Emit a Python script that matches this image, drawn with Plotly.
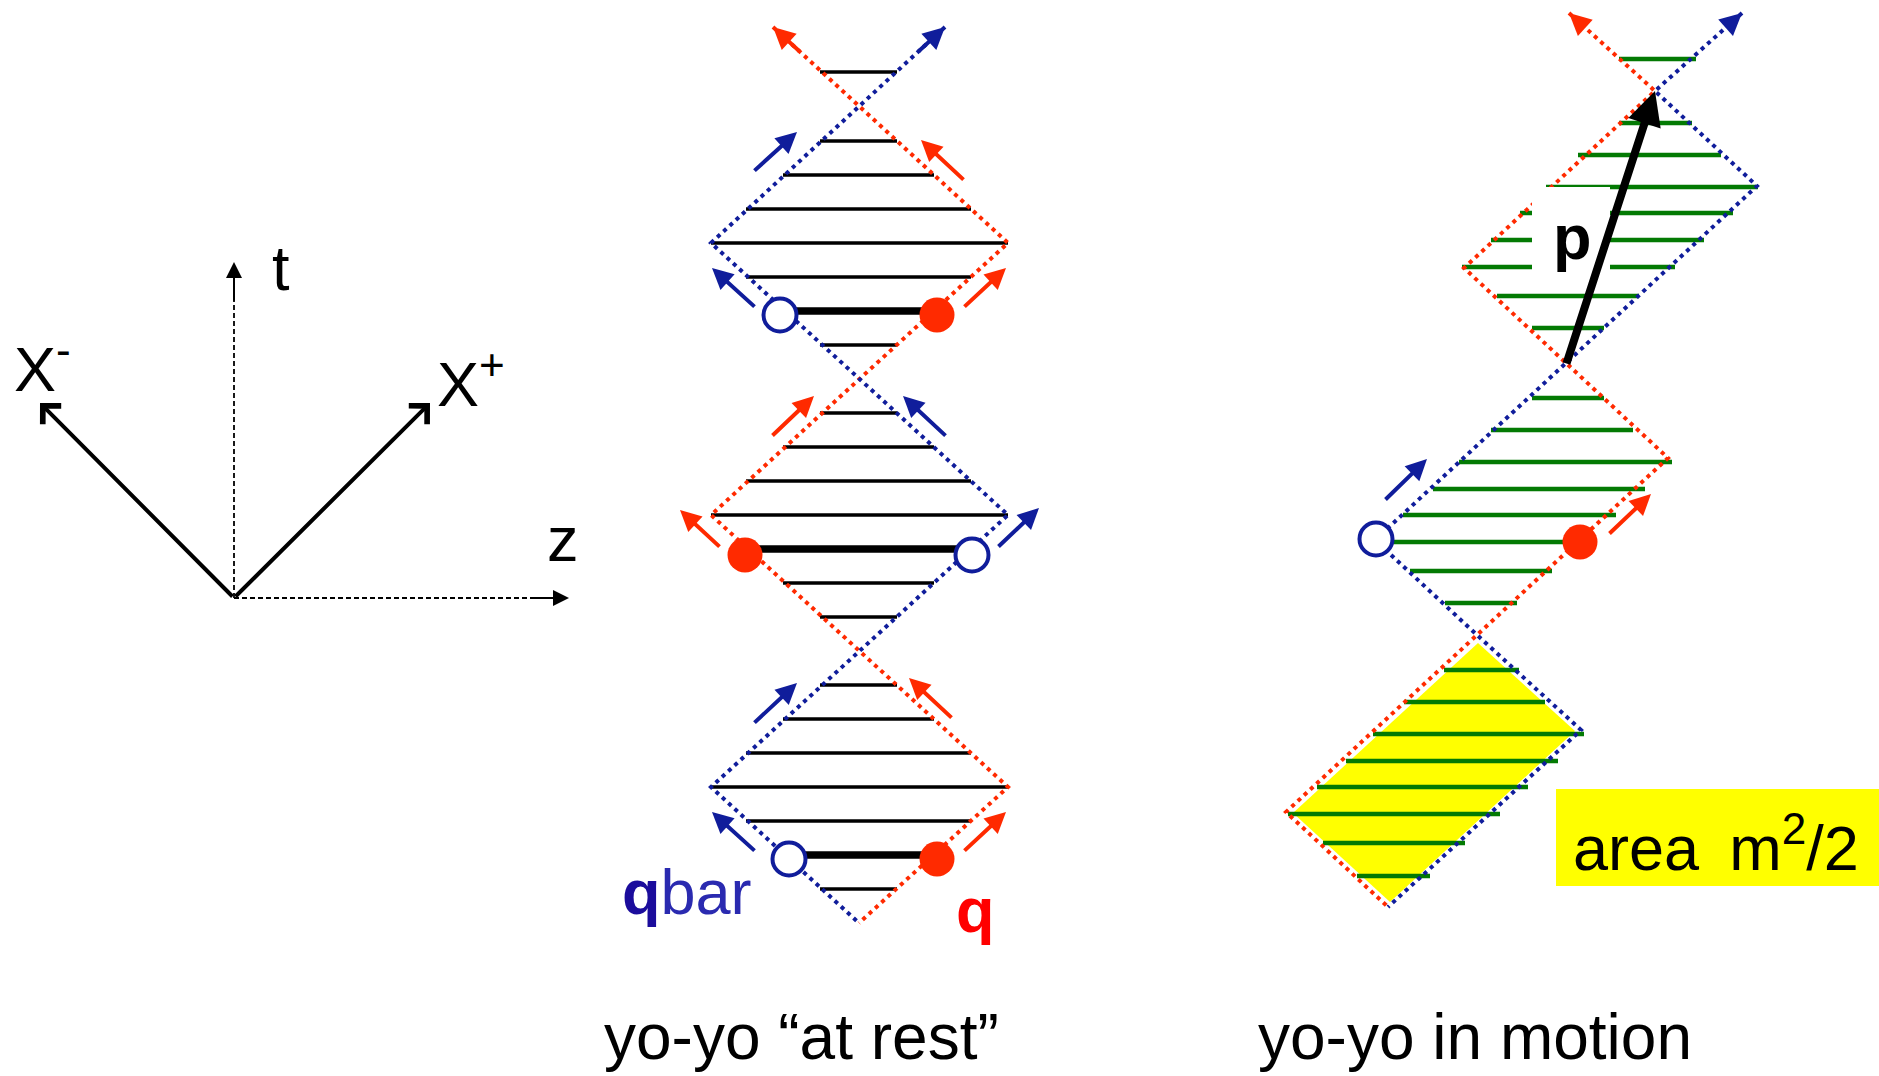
import plotly.graph_objects as go

FONT = "Liberation Sans, Arial, Helvetica, sans-serif"
BLUE = "#101d9b"
RED = "#ff2a00"
QRED = "#ff0000"
GREEN = "#037a03"
YELLOW = "#ffff00"
BLACK = "#000000"

# ---------------- data (pixel units) ----------------
# left: coordinate frame
frame_origin_x = 234
frame_origin_y = 598
frame_dashed_tip_x = [234, 569]          # t axis, z axis
frame_dashed_tip_y = [262, 598]
frame_lc_tip_x = [40, 430]               # X-, X+
frame_lc_tip_y = [403, 403]
frame_label_text = ["t", "X<sup>-</sup>", "X<sup>+</sup>", "z"]
frame_label_x = [270, 12, 435, 545]
frame_label_y = [268, 364, 379, 539]

# middle: yo-yo at rest
rest_red_path_x = [773, 1008, 711, 1008, 859]
rest_red_path_y = [27, 243, 515, 787, 923]
rest_blue_path_x = [945, 711, 1008, 711, 859]
rest_blue_path_y = [27, 243, 515, 787, 923]
rest_rung_y = [72, 141, 175, 209, 243, 277, 345, 413, 447, 481, 515, 583, 617,
               685, 719, 753, 787, 821, 889]
rest_rung_x0 = [820, 820, 783, 746, 711, 746, 820, 820, 783, 746, 711, 783, 820,
                820, 783, 746, 711, 746, 820]
rest_rung_x1 = [897, 897, 934, 971, 1008, 971, 897, 897, 934, 971, 1008, 934, 897,
                897, 934, 971, 1008, 971, 897]
rest_string_y = [311, 549, 855]
rest_string_x0 = [785, 748, 789]
rest_string_x1 = [935, 970, 937]
rest_antiquark_x = [780, 972, 789]
rest_antiquark_y = [315, 555, 859]
rest_quark_x = [937, 745, 937]
rest_quark_y = [315, 555, 859]

# small velocity arrows (tail -> tip)
vel_color = ["b", "r", "b", "r", "r", "b", "r", "b", "b", "r", "b", "r", "b", "r"]
vel_x0 = [753, 965, 756, 963, 771, 947, 721, 997, 753, 953, 756, 963, 1384, 1608]
vel_y0 = [172, 181, 308, 308, 437, 437, 548, 548, 724, 719, 852, 852, 501, 535]
vel_x1 = [797, 921, 712, 1006, 814, 903, 680, 1039, 797, 909, 712, 1006, 1427, 1651]
vel_y1 = [132, 140, 268, 268, 396, 396, 510, 508, 683, 678, 812, 812, 459, 494]

# right: yo-yo in motion
mot_red_path_x = [1569, 1655, 1464, 1566, 1668, 1477, 1286, 1388]
mot_red_path_y = [13, 91, 268, 363, 458, 635, 812, 907]
mot_blue_path_x = [1742, 1655, 1757, 1566, 1375, 1477, 1581, 1388]
mot_blue_path_y = [13, 91, 186, 363, 540, 635, 730, 907]
mot_rung_y = [59, 123, 155, 187, 213, 240, 267, 296, 328,
              398, 430, 462, 489, 515, 571, 603,
              670, 702, 734, 761, 787, 814, 843, 876]
mot_rung_x0 = [1619, 1619, 1578, 1546, 1520, 1491, 1462, 1497, 1532,
               1532, 1491, 1459, 1433, 1403, 1410, 1445,
               1444, 1404, 1373, 1346, 1317, 1288, 1323, 1357]
mot_rung_x1 = [1696, 1692, 1721, 1758, 1733, 1704, 1675, 1639, 1604,
               1604, 1633, 1672, 1645, 1616, 1552, 1517,
               1519, 1545, 1584, 1558, 1528, 1500, 1465, 1430]
mot_string_y = 542
mot_string_x0 = 1393
mot_string_x1 = 1563
mot_antiquark = (1376, 539)
mot_quark = (1580, 542)
mot_area_x = [1478, 1575, 1390, 1293]
mot_area_y = [643, 731, 902, 813]
p_arrow_tail = (1566, 365)
p_arrow_tip = (1655, 91)
p_box_x = [1532, 1610]
p_box_y = [187, 279]
area_box_x = [1556, 1879]
area_box_y = [789, 886]

# texts: (text, x, y, size, color, xanchor)
texts = [
    ("<b>q</b><span style='color:#2a2ab0'>bar</span>", 620, 892, 63, "#1b0c9c", "left"),
    ("<b>q</b>", 975, 910, 63, QRED, "center"),
    ("<b>p</b>", 1572, 237, 63, BLACK, "center"),
    ("area\u2009 m<sup>2</sup>/2", 1716, 843, 63, BLACK, "center"),
    ("yo-yo \u201cat rest\u201d", 801, 1037, 64, BLACK, "center"),
    ("yo-yo in motion", 1475, 1037, 64, BLACK, "center"),
]

# ---------------- figure ----------------
fig = go.Figure()

# yellow area
fig.add_trace(go.Scatter(x=mot_area_x + [mot_area_x[0]], y=mot_area_y + [mot_area_y[0]],
                         mode="lines", fill="toself", fillcolor=YELLOW,
                         line=dict(width=0, color=YELLOW), hoverinfo="skip"))


def segs(x0s, x1s, ys):
    xs, yy = [], []
    for a, b, y in zip(x0s, x1s, ys):
        xs += [a, b, None]
        yy += [y, y, None]
    return xs, yy


# black rungs (at rest)
xs, ys = segs(rest_rung_x0, rest_rung_x1, rest_rung_y)
fig.add_trace(go.Scatter(x=xs, y=ys, mode="lines", line=dict(color=BLACK, width=3.5),
                         hoverinfo="skip"))
xs, ys = segs(rest_string_x0, rest_string_x1, rest_string_y)
fig.add_trace(go.Scatter(x=xs, y=ys, mode="lines", line=dict(color=BLACK, width=7.5),
                         hoverinfo="skip"))

# green rungs (in motion)
xs, ys = segs(mot_rung_x0 + [mot_string_x0], mot_rung_x1 + [mot_string_x1],
              mot_rung_y + [mot_string_y])
fig.add_trace(go.Scatter(x=xs, y=ys, mode="lines", line=dict(color=GREEN, width=4.5),
                         hoverinfo="skip"))

# dotted light-cone paths
for px, py, col in [(rest_red_path_x, rest_red_path_y, RED),
                    (rest_blue_path_x, rest_blue_path_y, BLUE),
                    (mot_red_path_x, mot_red_path_y, RED),
                    (mot_blue_path_x, mot_blue_path_y, BLUE)]:
    fig.add_trace(go.Scatter(x=px, y=py, mode="lines",
                             line=dict(color=col, width=4, dash="4px,4.5px"),
                             hoverinfo="skip"))

# frame dashed axes
for tx, ty in zip(frame_dashed_tip_x, frame_dashed_tip_y):
    fig.add_trace(go.Scatter(x=[frame_origin_x, tx], y=[frame_origin_y, ty], mode="lines",
                             line=dict(color=BLACK, width=1.8, dash="5px,3px"),
                             hoverinfo="skip"))

# quarks
fig.add_trace(go.Scatter(x=rest_antiquark_x + [mot_antiquark[0]],
                         y=rest_antiquark_y + [mot_antiquark[1]], mode="markers",
                         marker=dict(symbol="circle", size=33, color="white",
                                     line=dict(color=BLUE, width=4)),
                         hoverinfo="skip"))
fig.add_trace(go.Scatter(x=rest_quark_x + [mot_quark[0]],
                         y=rest_quark_y + [mot_quark[1]], mode="markers",
                         marker=dict(symbol="circle", size=35, color=RED,
                                     line=dict(width=0)),
                         hoverinfo="skip"))

shapes = []
# white box behind p label
shapes.append(dict(type="rect", xref="x", yref="y", x0=p_box_x[0], x1=p_box_x[1],
                   y0=p_box_y[0], y1=p_box_y[1], fillcolor="white",
                   line=dict(width=0), layer="above"))
# yellow area label box
shapes.append(dict(type="rect", xref="x", yref="y", x0=area_box_x[0], x1=area_box_x[1],
                   y0=area_box_y[0], y1=area_box_y[1], fillcolor=YELLOW,
                   line=dict(width=0), layer="above"))

anns = []


def arrow(x0, y0, x1, y1, color, width, head, size):
    anns.append(dict(x=x1, y=y1, ax=x0, ay=y0, xref="x", yref="y", axref="x", ayref="y",
                     text="", showarrow=True, arrowhead=head, arrowsize=size,
                     arrowwidth=width, arrowcolor=color, standoff=0))


def head_only(px, py, color, width, head, size):
    # arrowhead at the start of a path, oriented along its first segment
    tx, ty = px[0], py[0]
    bx = tx + 0.12 * (px[1] - tx)
    by = ty + 0.12 * (py[1] - ty)
    arrow(bx, by, tx, ty, color, width, head, size)


for px, py, col in [(rest_red_path_x, rest_red_path_y, RED),
                    (rest_blue_path_x, rest_blue_path_y, BLUE),
                    (mot_red_path_x, mot_red_path_y, RED),
                    (mot_blue_path_x, mot_blue_path_y, BLUE)]:
    head_only(px, py, col, 4, 2, 1.1)

# dashed axes heads
for tx, ty in zip(frame_dashed_tip_x, frame_dashed_tip_y):
    head_only([tx, frame_origin_x], [ty, frame_origin_y], BLACK, 2, 2, 1.6)

# light-cone axes X-, X+
for tx, ty in zip(frame_lc_tip_x, frame_lc_tip_y):
    arrow(frame_origin_x, frame_origin_y, tx, ty, BLACK, 4, 4, 1.25)

# velocity arrows
for c, x0, y0, x1, y1 in zip(vel_color, vel_x0, vel_y0, vel_x1, vel_y1):
    arrow(x0, y0, x1, y1, BLUE if c == "b" else RED, 4, 2, 1.05)

# p arrow
arrow(p_arrow_tail[0], p_arrow_tail[1], p_arrow_tip[0], p_arrow_tip[1], BLACK, 8, 2, 0.85)

# frame labels
for t, x, y in zip(frame_label_text, frame_label_x, frame_label_y):
    anns.append(dict(x=x, y=y, xref="x", yref="y", text=t, showarrow=False,
                     xanchor="left", yanchor="middle",
                     font=dict(family=FONT, size=63, color=BLACK)))

for t, x, y, s, c, xa in texts:
    anns.append(dict(x=x, y=y, xref="x", yref="y", text=t, showarrow=False,
                     xanchor=xa, yanchor="middle",
                     font=dict(family=FONT, size=s, color=c)))

fig.update_layout(
    width=1879, height=1076, autosize=False,
    margin=dict(l=0, r=0, t=0, b=0, pad=0),
    paper_bgcolor="white", plot_bgcolor="white",
    showlegend=False,
    xaxis=dict(range=[0, 1879], visible=False, fixedrange=True),
    yaxis=dict(range=[1076, 0], visible=False, fixedrange=True),
    shapes=shapes, annotations=anns,
)

fig.write_html("out.html", config={"displayModeBar": False},
               post_script="document.body.style.margin='0';document.body.style.overflow='hidden';")
